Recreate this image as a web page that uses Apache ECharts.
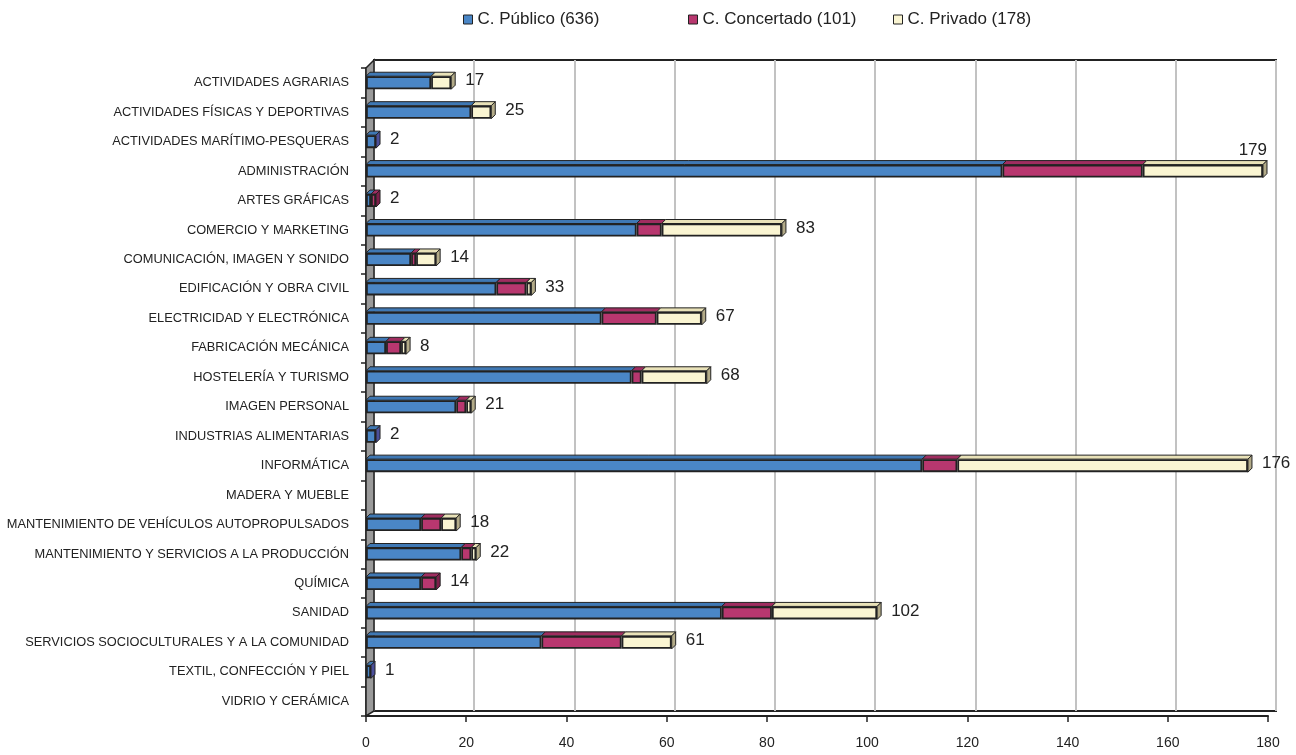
<!DOCTYPE html>
<html>
<head>
<meta charset="utf-8">
<script src="https://cdn.jsdelivr.net/npm/echarts@6/dist/echarts.min.js"></script>
<style>
  html, body { margin: 0; padding: 0; background: #fff; }
  #main { width: 1296px; height: 755px; }
</style>
</head>
<body>
<div id="main"></div>
<script>
// familias profesionales
var categories = [
  'ACTIVIDADES AGRARIAS',
  'ACTIVIDADES FÍSICAS Y DEPORTIVAS',
  'ACTIVIDADES MARÍTIMO-PESQUERAS',
  'ADMINISTRACIÓN',
  'ARTES GRÁFICAS',
  'COMERCIO Y MARKETING',
  'COMUNICACIÓN, IMAGEN Y SONIDO',
  'EDIFICACIÓN Y OBRA CIVIL',
  'ELECTRICIDAD Y ELECTRÓNICA',
  'FABRICACIÓN MECÁNICA',
  'HOSTELERÍA Y TURISMO',
  'IMAGEN PERSONAL',
  'INDUSTRIAS ALIMENTARIAS',
  'INFORMÁTICA',
  'MADERA Y MUEBLE',
  'MANTENIMIENTO DE VEHÍCULOS AUTOPROPULSADOS',
  'MANTENIMIENTO Y SERVICIOS A LA PRODUCCIÓN',
  'QUÍMICA',
  'SANIDAD',
  'SERVICIOS SOCIOCULTURALES Y A LA COMUNIDAD',
  'TEXTIL, CONFECCIÓN Y PIEL',
  'VIDRIO Y CERÁMICA'
]
var publico    = [13, 21, 2, 127, 1, 54, 9, 26, 47, 4, 53, 18, 2, 111, 0, 11, 19, 11, 71, 35, 1, 0]
var concertado = [0, 0, 0, 28, 1, 5, 1, 6, 11, 3, 2, 2, 0, 7, 0, 4, 2, 3, 10, 16, 0, 0]
var privado    = [4, 4, 0, 24, 0, 24, 4, 1, 9, 1, 13, 1, 0, 58, 0, 3, 1, 0, 21, 10, 0, 0]
var xMin = 0, xMax = 180, xStep = 20

var colors = ['#4a86c6', '#b8376f', '#faf5d2']
var topColors = ['#3f78b4', '#a02d60', '#e9e2b8']
var sideColors = ['#4b4f9a', '#7e1e4a', '#b3ab88']

function sum (arr) { return arr.reduce(function (a, b) { return a + b }, 0) }
var names = [
  'C. Público (' + sum(publico) + ')',
  'C. Concertado (' + sum(concertado) + ')',
  'C. Privado (' + sum(privado) + ')'
]
var totals = categories.map(function (c, i) { return publico[i] + concertado[i] + privado[i] })

// segmentos para las caras 3D: [inicio, fin, categoría, serie, total (0 si no es el último)]
var segs = []
categories.forEach(function (c, i) {
  var vals = [publico[i], concertado[i], privado[i]]
  var start = 0
  var last = -1
  vals.forEach(function (v, k) { if (v > 0) last = k })
  vals.forEach(function (v, k) {
    if (v > 0) {
      segs.push([start, start + v, i, k, k === last ? totals[i] : 0])
      start += v
    }
  })
})

var FONT = 'Liberation Sans, Arial, sans-serif'
var BAR_H = 13
var DEPTH = 4

function render3d (params, api) {
  var p0 = api.coord([api.value(0), api.value(2)])
  var p1 = api.coord([api.value(1), api.value(2)])
  var k = api.value(3)
  var total = api.value(4)
  var yt = p0[1] - BAR_H / 2
  var yb = p0[1] + BAR_H / 2
  var children = [{
    type: 'polygon',
    shape: { points: [[p0[0], yt], [p1[0], yt], [p1[0] + DEPTH, yt - DEPTH], [p0[0] + DEPTH, yt - DEPTH]] },
    style: { fill: topColors[k], stroke: '#222', lineWidth: 1 }
  }]
  if (total > 0) {
    children.push({
      type: 'polygon',
      shape: { points: [[p1[0], yt], [p1[0] + DEPTH, yt - DEPTH], [p1[0] + DEPTH, yb - DEPTH], [p1[0], yb]] },
      style: { fill: sideColors[k], stroke: '#222', lineWidth: 1 }
    })
    var above = total >= xMax - 2
    children.push({
      type: 'text',
      style: {
        text: String(total),
        x: above ? p1[0] + DEPTH : p1[0] + DEPTH + 10,
        y: above ? yt - DEPTH - 2 : p0[1] - 2,
        align: above ? 'right' : 'left',
        verticalAlign: above ? 'bottom' : 'middle',
        fill: '#222',
        font: '17px ' + FONT
      }
    })
  }
  return { type: 'group', children: children }
}

function barSeries (k, data) {
  return {
    name: names[k],
    type: 'bar',
    stack: 'total',
    xAxisIndex: 1,
    yAxisIndex: 1,
    barWidth: BAR_H,
    z: 3,
    itemStyle: { color: colors[k], borderColor: '#222', borderWidth: 1.8 },
    data: data.map(function (v) { return v > 0 ? v : null })
  }
}

var myChart = echarts.init(document.getElementById('main'))
myChart.setOption({
  animation: false,
  textStyle: { fontFamily: FONT },
  legend: [0, 1, 2].map(function (k) {
    return {
      data: [names[k]],
      left: [458, 683, 888][k],
      top: 6,
      icon: 'rect',
      itemWidth: 9,
      itemHeight: 9,
      itemGap: 6,
      textStyle: { fontSize: 17, color: '#222', fontFamily: FONT },
      itemStyle: { borderColor: '#222', borderWidth: 1 }
    }
  }),
  graphic: [{
    type: 'polygon',
    shape: { points: [[366, 68], [374, 60], [374, 711], [366, 716]] },
    style: { fill: '#9a9a9a', stroke: '#222', lineWidth: 1.5 },
    z: 2
  }],
  grid: [
    // plano de fondo
    { left: 374, right: 20, top: 60, bottom: 44, show: true, borderColor: '#222', borderWidth: 2, backgroundColor: '#fff' },
    // plano frontal
    { left: 366, right: 28, top: 68, bottom: 39 }
  ],
  xAxis: [
    {
      gridIndex: 0, type: 'value', min: xMin, max: xMax, interval: xStep,
      axisLine: { show: false }, axisTick: { show: false }, axisLabel: { show: false },
      splitLine: { show: true, lineStyle: { color: '#c2c2c2', width: 2 } }
    },
    {
      gridIndex: 1, type: 'value', min: xMin, max: xMax, interval: xStep,
      axisLine: { show: true, lineStyle: { color: '#222', width: 2 } },
      axisTick: { show: true, length: 6, lineStyle: { color: '#222', width: 1.5 } },
      axisLabel: { color: '#222', fontSize: 14, margin: 20, fontFamily: FONT },
      splitLine: { show: false }
    }
  ],
  yAxis: [
    { gridIndex: 0, type: 'category', data: categories, inverse: true, show: false },
    {
      gridIndex: 1, type: 'category', data: categories, inverse: true,
      axisLine: { show: true, lineStyle: { color: '#222', width: 1.5 } },
      axisTick: { show: true, length: 5, lineStyle: { color: '#222', width: 1.5 } },
      axisLabel: { color: '#222', fontSize: 12.8, margin: 17, fontFamily: FONT }
    }
  ],
  series: [
    barSeries(0, publico),
    barSeries(1, concertado),
    barSeries(2, privado),
    {
      type: 'custom',
      xAxisIndex: 1,
      yAxisIndex: 1,
      z: 4,
      renderItem: render3d,
      encode: { x: [0, 1], y: 2 },
      data: segs
    }
  ]
})
</script>
</body>
</html>
